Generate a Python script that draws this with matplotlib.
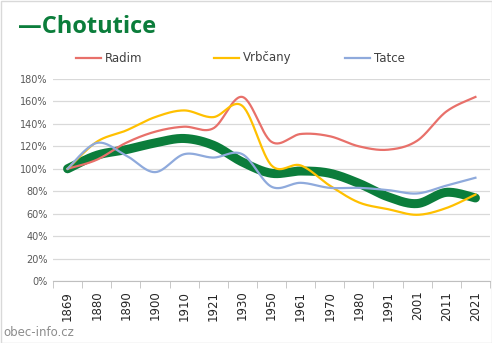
import numpy as np
import matplotlib
matplotlib.use("Agg")
import matplotlib.pyplot as plt
from matplotlib.ticker import FixedLocator, FuncFormatter

years = ["1869", "1880", "1890", "1900", "1910", "1921", "1930", "1950",
         "1961", "1970", "1980", "1991", "2001", "2011", "2021"]
chotutice = [100, 112, 117, 123, 127, 121, 106, 96, 98, 96, 87, 75, 69, 79, 74]
radim = [100, 108, 123, 133, 137.5, 136, 164, 124, 131, 129, 120, 117, 125, 151, 164]
vrbcany = [100, 124, 134, 146, 152, 146, 156, 103, 103, 85, 70, 64, 59, 65, 77]
tatce = [100, 123, 112, 97, 113, 110, 113, 84, 87.5, 83, 83, 81, 78, 85, 92]
yticks = [0, 20, 40, 60, 80, 100, 120, 140, 160, 180]


def smooth(y, n=30):
    # Excel-like Catmull-Rom smoothing for drawing
    y = np.asarray(y, float)
    x = np.arange(len(y), dtype=float)
    P = np.column_stack([x, y])
    P = np.vstack([P[0], P, P[-1]])
    out = []
    for i in range(1, len(P) - 2):
        p0, p1, p2, p3 = P[i - 1], P[i], P[i + 1], P[i + 2]
        c1 = p1 + (p2 - p0) / 6.0
        c2 = p2 - (p3 - p1) / 6.0
        t = np.linspace(0, 1, n, endpoint=(i == len(P) - 3))[:, None]
        b = ((1 - t) ** 3) * p1 + 3 * ((1 - t) ** 2) * t * c1 + 3 * (1 - t) * t ** 2 * c2 + t ** 3 * p2
        out.append(b)
    B = np.vstack(out)
    return B[:, 0], B[:, 1]


fig = plt.figure(figsize=(4.92, 3.43), dpi=100)
ax = fig.add_axes([53 / 492, (343 - 281) / 343, (490 - 53) / 492, (281 - 79) / 343])

colors = {"Radim": "#E8706A", "Vrbčany": "#FFC000", "Tatce": "#8FAADC"}
ax.plot(*smooth(chotutice), color="#0B7D3B", lw=6.5, solid_capstyle="round", zorder=3)
l1, = ax.plot(*smooth(radim), color=colors["Radim"], lw=1.6, zorder=4)
l2, = ax.plot(*smooth(vrbcany), color=colors["Vrbčany"], lw=1.6, zorder=4)
l3, = ax.plot(*smooth(tatce), color=colors["Tatce"], lw=1.6, zorder=4)

ax.set_xlim(-0.5, len(years) - 0.5)
ax.set_ylim(0, 180)
ax.set_yticks(yticks)
ax.yaxis.set_major_formatter(FuncFormatter(lambda v, p: f"{int(v)}%"))
ax.grid(axis="y", color="#D9D9D9", lw=0.9)
ax.set_axisbelow(True)
for s in ["top", "right", "left"]:
    ax.spines[s].set_visible(False)
ax.spines["bottom"].set_color("#BFBFBF")
ax.tick_params(axis="y", length=0, labelsize=7, labelcolor="#595959", pad=4)
ax.set_xticks(range(len(years)))
ax.set_xticklabels(years, rotation=90, fontsize=8.5, color="#262626")
ax.tick_params(axis="x", which="major", length=0, pad=7)
ax.xaxis.set_minor_locator(FixedLocator(np.arange(-0.5, len(years), 1.0)))
ax.tick_params(axis="x", which="minor", length=5, color="#BFBFBF")

fig.text(18 / 492, 1 - 27 / 343, "—Chotutice", fontsize=17, fontweight="bold",
         color="#0B7D3B", family="Open Sans", va="center", ha="left")

# legend
ly = 1 - 58 / 343
for (x0, name) in [(76, "Radim"), (214, "Vrbčany"), (345, "Tatce")]:
    fig.add_artist(plt.Line2D([x0 / 492, (x0 + 25) / 492], [ly, ly], color=colors[name], lw=1.6))
    fig.text((x0 + 29) / 492, ly, name, fontsize=8.5, color="#404040", va="center", ha="left")

fig.text(3 / 492, 1 - 333 / 343, "obec-info.cz", fontsize=8.5, color="#8C8C8C", va="center", ha="left")

fig.add_artist(plt.Rectangle((0.5 / 492, 0.5 / 343), 491 / 492, 342 / 343, fill=False,
                             edgecolor="#D9D9D9", lw=1, transform=fig.transFigure))

fig.savefig("out.png", dpi=100)
